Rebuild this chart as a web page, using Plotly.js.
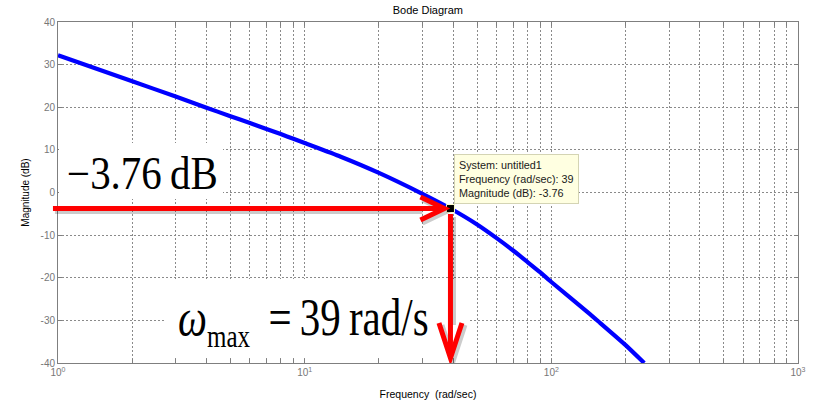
<!DOCTYPE html>
<html>
<head>
<meta charset="utf-8">
<script src="https://cdn.plot.ly/plotly-3.0.1.min.js"></script>
<style>
  html, body { margin: 0; padding: 0; background: #fff; }
  #chart { width: 815px; height: 404px; }
</style>
</head>
<body>
<div id="chart"></div>
<script>
// Open-loop magnitude response (rad/sec, dB)
const freq = [1, 2, 3, 4, 5, 6, 7, 8, 9, 10, 14, 20, 30, 39, 50, 60, 70, 80, 90, 100, 143, 157, 200, 238];
const magDb = [32.2, 26.1, 22.5, 19.9, 17.9, 16.3, 14.9, 13.7, 12.6, 11.6, 8.4, 4.6, -0.3, -3.76, -7.5, -10.7, -13.6, -16.3, -18.7, -21.0, -28.5, -30.5, -35.8, -40.0];

// Data-tip point
const systemName = 'untitled1';
const tipFreq = 39;
const tipMag = -3.76;

// Axis ticks
const yTicks = [-40, -30, -20, -10, 0, 10, 20, 30, 40];
const yTickText = ['-40', '-30', '-20', '-10', '0', '10', '20', '30', '40'];
const decades = [1, 10, 100, 1000];
const decadeText = ['10<sup>0</sup>', '10<sup>1</sup>', '10<sup>2</sup>', '10<sup>3</sup>'];

const minorVals = [];
decades.slice(0, 3).forEach(d => { for (let k = 2; k <= 9; k++) minorVals.push(d * k); });

const axisGrey = '#7f7f7f';
const gridGrey = '#8a8a8a';
const red = '#ff0000';
const shadow = 'rgba(0,0,0,0.2)';
const sans = 'Arial, "Liberation Sans", sans-serif';
const serif = '"Times New Roman", "Liberation Serif", serif';

const lx = Math.log10(tipFreq);   // annotations on a log axis take log10 positions

const traces = [
  {
    x: freq, y: magDb, type: 'scatter', mode: 'lines',
    line: { color: '#0000ff', width: 4.2, shape: 'spline', smoothing: 0.6 },
    hoverinfo: 'skip'
  },
  {
    x: [tipFreq], y: [tipMag], type: 'scatter', mode: 'markers',
    marker: { symbol: 'square', size: 8, color: '#000', line: { color: '#ffffd0', width: 1 } },
    hoverinfo: 'skip'
  }
];

// open chevron arrowhead, pixel offsets relative to its anchor
function chevron(pts, dx, dy) {
  return 'M' + pts.map(p => (p[0] + dx) + ',' + (p[1] + dy)).join(' L');
}
const hHead = [[-30, 11.5], [-6, 0], [-30, -11.5]];
const vHead = [[-11.5, 40], [0, 5], [11.5, 40]];

// plot area in pixels: x 58..798, y 22..363
const px = v => (v - 58) / 740;
const py = v => (363 - v) / 341;

const shapes = [
  // white panels behind the large labels
  { type: 'rect', xref: 'paper', yref: 'paper', layer: 'above',
    x0: px(59), x1: px(223), y0: py(199), y1: py(143),
    fillcolor: '#fff', line: { width: 0 } },
  { type: 'rect', xref: 'paper', yref: 'paper', layer: 'above',
    x0: px(165), x1: px(468), y0: py(357), y1: py(279),
    fillcolor: '#fff', line: { width: 0 } },
  // arrowhead shadows
  { type: 'path', xref: 'x', yref: 'y', xsizemode: 'pixel', ysizemode: 'pixel', layer: 'above',
    xanchor: tipFreq, yanchor: tipMag, path: chevron(hHead, 2, -3),
    line: { color: shadow, width: 5 } },
  { type: 'path', xref: 'x', yref: 'y', xsizemode: 'pixel', ysizemode: 'pixel', layer: 'above',
    xanchor: tipFreq, yanchor: -40, path: chevron(vHead, 3, -2),
    line: { color: shadow, width: 5 } },
  // arrowheads
  { type: 'path', xref: 'x', yref: 'y', xsizemode: 'pixel', ysizemode: 'pixel', layer: 'above',
    xanchor: tipFreq, yanchor: tipMag, path: chevron(hHead, 0, 0),
    line: { color: red, width: 5 } },
  { type: 'path', xref: 'x', yref: 'y', xsizemode: 'pixel', ysizemode: 'pixel', layer: 'above',
    xanchor: tipFreq, yanchor: -40, path: chevron(vHead, 0, 0),
    line: { color: red, width: 5 } }
];

const annotations = [
  // arrow shafts: shadows first, then red
  { x: lx, y: tipMag, xref: 'x', yref: 'y', ax: -399, ay: 0, text: '',
    showarrow: true, arrowhead: 0, arrowwidth: 5, arrowcolor: shadow, standoff: 30,
    xshift: 2, yshift: -3 },
  { x: lx, y: -40, xref: 'x', yref: 'y', ax: 0, ay: tipMag, ayref: 'y', text: '',
    showarrow: true, arrowhead: 0, arrowwidth: 5, arrowcolor: shadow, standoff: 40, startstandoff: 5,
    xshift: 3, yshift: -2 },
  { x: lx, y: tipMag, xref: 'x', yref: 'y', ax: -399, ay: 0, text: '',
    showarrow: true, arrowhead: 0, arrowwidth: 5, arrowcolor: red, standoff: 9 },
  { x: lx, y: -40, xref: 'x', yref: 'y', ax: 0, ay: tipMag, ayref: 'y', text: '',
    showarrow: true, arrowhead: 0, arrowwidth: 5, arrowcolor: red, standoff: 8, startstandoff: 4 },
  // data tip
  { x: lx, y: tipMag, xref: 'x', yref: 'y', xanchor: 'left', yanchor: 'bottom',
    xshift: 4, yshift: 5, showarrow: false, align: 'left',
    text: 'System: ' + systemName + '<br>Frequency (rad/sec): ' + tipFreq +
          '<br>Magnitude (dB): ' + tipMag.toFixed(2),
    font: { family: sans, size: 10.8, color: '#1a1a1a' },
    bgcolor: '#ffffe1', bordercolor: '#d4d4b4', borderwidth: 1, borderpad: 4 },
  // large labels
  { xref: 'paper', yref: 'paper', x: px(142), y: py(173),
    xanchor: 'center', yanchor: 'middle', showarrow: false,
    text: '\u2212' + Math.abs(tipMag).toFixed(2) + '\u2009dB',
    font: { family: serif, size: 41, color: '#000' } },
  { xref: 'paper', yref: 'paper', x: px(303), y: py(320),
    xanchor: 'center', yanchor: 'middle', showarrow: false,
    text: '<i>\u03c9</i><sub><span style="font-size:25px">max</span></sub>\u2009 =\u2009' + tipFreq + '\u2009rad/s',
    font: { family: serif, size: 41, color: '#000' } }
];

const layout = {
  width: 815, height: 404,
  margin: { l: 58, r: 17, t: 22, b: 41 },
  paper_bgcolor: '#fff', plot_bgcolor: '#fff',
  showlegend: false,
  title: { text: 'Bode Diagram', x: 0.525, xanchor: 'center', y: 0.976, yanchor: 'middle',
           font: { family: sans, size: 11, color: '#000' } },
  xaxis: {
    type: 'log', range: [0, 3],
    tickmode: 'array', tickvals: decades, ticktext: decadeText,
    ticks: 'inside', ticklen: 4, tickcolor: axisGrey,
    showline: true, linecolor: axisGrey, linewidth: 1, mirror: 'ticks',
    showgrid: true, gridcolor: gridGrey, griddash: '2px,2px', gridwidth: 1,
    minor: { tickvals: minorVals, ticks: 'inside', ticklen: 4, tickcolor: axisGrey,
             showgrid: true, gridcolor: gridGrey, griddash: '2px,2px', gridwidth: 1 },
    tickfont: { family: sans, size: 10, color: '#777' },
    zeroline: false,
    title: { text: 'Frequency\u00a0 (rad/sec)', standoff: 13, font: { family: sans, size: 10.5, color: '#000' } }
  },
  yaxis: {
    range: [-40, 40],
    tickmode: 'array', tickvals: yTicks, ticktext: yTickText,
    ticks: 'inside', ticklen: 4, tickcolor: axisGrey,
    showline: true, linecolor: axisGrey, linewidth: 1, mirror: 'ticks',
    showgrid: true, gridcolor: gridGrey, griddash: '2px,2px', gridwidth: 1,
    tickfont: { family: sans, size: 10, color: '#777' },
    zeroline: false,
    title: { text: 'Magnitude (dB)', standoff: 9, font: { family: sans, size: 10, color: '#000' } }
  },
  shapes: shapes,
  annotations: annotations
};

Plotly.newPlot('chart', traces, layout, { displayModeBar: false, staticPlot: true }).then(gd => {
  // the large serif labels are set tall and narrow: stretch them vertically about their centres
  const stretch = [1.12, 1.3];
  const labels = Array.from(gd.querySelectorAll('.annotation-text-g text.annotation-text'))
    .filter(t => /dB$|rad\/s$/.test(t.textContent));
  labels.forEach((t, i) => {
    const b = t.getBBox();
    const cy = b.y + b.height / 2;
    const s = stretch[i] || 1;
    t.setAttribute('transform', 'translate(0,' + cy + ') scale(1,' + s + ') translate(0,' + (-cy) + ')');
  });
});
</script>
</body>
</html>
